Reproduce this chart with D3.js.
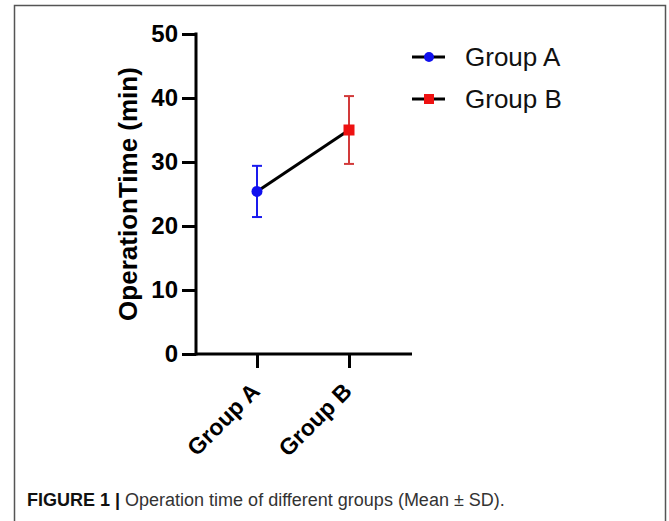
<!DOCTYPE html>
<html>
<head>
<meta charset="utf-8">
<script src="https://cdn.jsdelivr.net/npm/d3@7"></script>
<style>
  body { margin: 0; background: #fff; }
  svg { display: block; font-family: "Liberation Sans", Arial, sans-serif; }
</style>
</head>
<body>
<svg id="chart" width="669" height="521"></svg>
<script>
// data
const groups = ["Group A", "Group B"];
const means = [25.4, 35.0];
const sds = [4.0, 5.3];
const colors = ["#1010ee", "#ee1111"];
const barColors = ["#1a1aee", "#d23a3a"];
const yTicks = [0, 10, 20, 30, 40, 50];

const svg = d3.select("#chart");

// frame
svg.append("path")
  .attr("d", "M14.5,521 V5.5 H665.5 V521")
  .attr("fill", "none")
  .attr("stroke", "#555")
  .attr("stroke-width", 1.5);

const x = d3.scalePoint().domain(groups).range([257, 349]);
const y = d3.scaleLinear().domain([0, 50]).range([354, 34]);

// y axis
const yAxis = svg.append("g")
  .attr("transform", "translate(196,0)")
  .call(d3.axisLeft(y).tickValues(yTicks).tickSize(14).tickPadding(4).tickSizeOuter(0));
yAxis.select(".domain").attr("stroke", "#000").attr("stroke-width", 3).attr("d", "M0," + (y(0) + 1.5) + "V" + (y(50) - 1.5));
yAxis.selectAll(".tick line").attr("stroke", "#000").attr("stroke-width", 3);
yAxis.selectAll(".tick text")
  .attr("fill", "#000")
  .style("font-size", "24px")
  .style("font-weight", "bold");

// x axis
const xAxis = svg.append("g")
  .attr("transform", "translate(0," + y(0) + ")")
  .call(d3.axisBottom(x).tickSize(14).tickSizeOuter(0));
xAxis.select(".domain").attr("stroke", "#000").attr("stroke-width", 3).attr("d", "M195,0H412");
xAxis.selectAll(".tick line").attr("stroke", "#000").attr("stroke-width", 3);
xAxis.selectAll(".tick text")
  .attr("fill", "#000")
  .attr("text-anchor", "end")
  .attr("transform", "translate(-2,33) rotate(-45)")
  .attr("y", 0)
  .attr("dy", "0.35em")
  .style("font-size", "23px")
  .style("font-weight", "bold");

// y title
svg.append("text")
  .attr("transform", "translate(137," + y(25) + ") rotate(-90)")
  .attr("text-anchor", "middle")
  .style("font-size", "26px")
  .style("font-weight", "bold")
  .text("OperationTime (min)");

const data = groups.map((g, i) => ({ g: g, m: means[i], sd: sds[i], c: colors[i], bc: barColors[i] }));

// error bars
const eb = svg.append("g").selectAll("g").data(data).join("g");
eb.append("line")
  .attr("x1", d => x(d.g)).attr("x2", d => x(d.g))
  .attr("y1", d => y(d.m - d.sd)).attr("y2", d => y(d.m + d.sd))
  .attr("stroke", d => d.bc).attr("stroke-width", 2);
eb.selectAll(".cap").data(d => [d.m - d.sd, d.m + d.sd].map(v => ({ v: v, g: d.g, bc: d.bc })))
  .join("line")
  .attr("class", "cap")
  .attr("x1", d => x(d.g) - 5).attr("x2", d => x(d.g) + 5)
  .attr("y1", d => y(d.v)).attr("y2", d => y(d.v))
  .attr("stroke", d => d.bc).attr("stroke-width", 2);

// connecting line
svg.append("path")
  .datum(data)
  .attr("fill", "none")
  .attr("stroke", "#000")
  .attr("stroke-width", 3)
  .attr("d", d3.line().x(d => x(d.g)).y(d => y(d.m)));

// markers
svg.append("circle")
  .attr("cx", x(groups[0])).attr("cy", y(means[0])).attr("r", 5.5)
  .attr("fill", colors[0]);
svg.append("rect")
  .attr("x", x(groups[1]) - 5.5).attr("y", y(means[1]) - 5.5)
  .attr("width", 11).attr("height", 11)
  .attr("fill", colors[1]);

// legend
const leg = svg.append("g").selectAll("g").data(data).join("g")
  .attr("transform", (d, i) => "translate(412," + (57 + i * 42) + ")");
leg.append("line").attr("x1", 0).attr("x2", 33).attr("stroke", "#000").attr("stroke-width", 3);
leg.filter((d, i) => i === 0).append("circle").attr("cx", 17).attr("r", 5).attr("fill", d => d.c);
leg.filter((d, i) => i === 1).append("rect").attr("x", 12).attr("y", -5).attr("width", 10).attr("height", 10).attr("fill", d => d.c);
leg.append("text")
  .attr("x", 53).attr("dy", "0.35em")
  .style("font-size", "26px")
  .attr("fill", "#111")
  .text(d => d.g);

// caption
const cap = svg.append("text")
  .attr("x", 27).attr("y", 506)
  .style("font-size", "18px")
  .attr("fill", "#333");
cap.append("tspan").style("font-weight", "bold").attr("fill", "#111").text("FIGURE 1 | ");
cap.append("tspan").text("Operation time of different groups (Mean \u00b1 SD).");
</script>
</body>
</html>
